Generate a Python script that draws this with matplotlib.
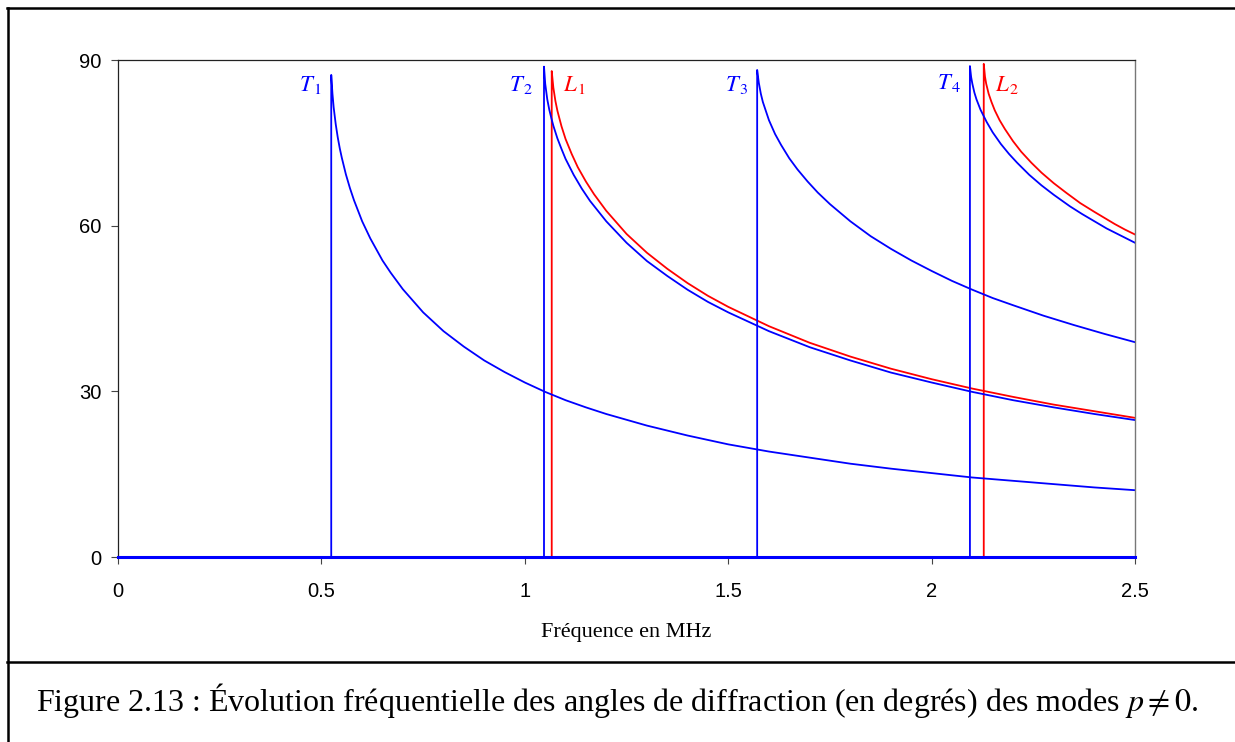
import matplotlib
matplotlib.use("Agg")
import matplotlib.pyplot as plt
from matplotlib.lines import Line2D

plt.rcParams["font.family"] = ["Liberation Sans", "DejaVu Sans"]
plt.rcParams["mathtext.fontset"] = "stix"

BLUE, RED = "#0000ff", "#ff0000"

# angle (deg) vs frequency (MHz); each mode is 0 below its cutoff
T1_F = [0.0, 0.524, 0.524, 0.527, 0.53, 0.535, 0.54, 0.545, 0.55, 0.56, 0.57, 0.58, 0.6, 0.62, 0.65, 0.67, 0.7,
        0.75, 0.8, 0.85, 0.9, 0.95, 1.0, 1.05, 1.1, 1.15, 1.2, 1.3, 1.4, 1.5, 1.6, 1.7, 1.8, 1.9, 2.0, 2.1, 2.2,
        2.3, 2.4, 2.5]
T1_A = [0.0, 0.0, 87.3, 83.9, 81.4, 78.4, 76.0, 74.0, 72.3, 69.3, 66.8, 64.6, 60.8, 57.7, 53.7, 51.5, 48.5,
        44.3, 40.9, 38.1, 35.6, 33.5, 31.6, 29.9, 28.4, 27.1, 25.9, 23.8, 22.0, 20.4, 19.1, 18.0, 16.9, 16.0, 15.2,
        14.4, 13.8, 13.2, 12.6, 12.1]

T2_F = [0.0, 1.047, 1.047, 1.05, 1.055, 1.06, 1.065, 1.07, 1.08, 1.09, 1.1, 1.12, 1.14, 1.16, 1.2, 1.25, 1.3,
        1.35, 1.4, 1.45, 1.5, 1.6, 1.7, 1.8, 1.9, 2.0, 2.1, 2.2, 2.3, 2.4, 2.5]
T2_A = [0.0, 0.0, 88.8, 85.7, 82.9, 81.0, 79.5, 78.1, 75.8, 73.9, 72.1, 69.2, 66.7, 64.5, 60.8, 56.9, 53.6,
        50.9, 48.4, 46.2, 44.3, 40.9, 38.0, 35.6, 33.4, 31.6, 29.9, 28.4, 27.1, 25.9, 24.8]

L1_F = [0.0, 1.066, 1.066, 1.07, 1.075, 1.08, 1.09, 1.1, 1.115, 1.13, 1.15, 1.17, 1.2, 1.25, 1.3, 1.35, 1.4,
        1.45, 1.5, 1.6, 1.7, 1.8, 1.9, 2.0, 2.1, 2.2, 2.3, 2.4, 2.5]
L1_A = [0.0, 0.0, 88.0, 85.0, 82.6, 80.8, 78.0, 75.7, 73.0, 70.6, 68.0, 65.7, 62.7, 58.5, 55.1, 52.2, 49.6,
        47.3, 45.3, 41.8, 38.8, 36.3, 34.1, 32.2, 30.5, 29.0, 27.6, 26.4, 25.2]

T3_F = [0.0, 1.571, 1.571, 1.575, 1.58, 1.585, 1.6, 1.615, 1.63, 1.65, 1.67, 1.695, 1.72, 1.75, 1.8, 1.85,
        1.9, 1.95, 2.0, 2.05, 2.1, 2.15, 2.2, 2.275, 2.35, 2.425, 2.5]
T3_A = [0.0, 0.0, 88.2, 85.9, 83.9, 82.4, 79.1, 76.6, 74.6, 72.2, 70.2, 68.0, 66.0, 63.9, 60.8, 58.1,
        55.8, 53.7, 51.8, 50.0, 48.4, 46.9, 45.6, 43.7, 42.0, 40.4, 38.9]

T4_F = [0.0, 2.094, 2.094, 2.097, 2.1, 2.105, 2.11, 2.12, 2.135, 2.15, 2.17, 2.19, 2.21, 2.24, 2.27, 2.3,
        2.34, 2.37, 2.4, 2.43, 2.465, 2.5]
T4_A = [0.0, 0.0, 88.9, 86.9, 85.7, 84.1, 82.9, 81.0, 78.8, 76.9, 74.8, 73.0, 71.4, 69.2, 67.3, 65.6,
        63.5, 62.1, 60.8, 59.5, 58.2, 56.9]

L2_F = [0.0, 2.128, 2.128, 2.131, 2.134, 2.14, 2.147, 2.155, 2.167, 2.18, 2.2, 2.22, 2.245, 2.27, 2.3, 2.33,
        2.365, 2.4, 2.425, 2.45, 2.475, 2.5]
L2_A = [0.0, 0.0, 89.3, 87.0, 85.7, 83.9, 82.4, 80.9, 79.1, 77.5, 75.3, 73.4, 71.4, 69.6, 67.7, 66.0,
        64.1, 62.5, 61.4, 60.3, 59.3, 58.4]

BASE_F = [0.0, 2.5]
BASE_A = [0.0, 0.0]

X_TICKS = [0, 0.5, 1, 1.5, 2, 2.5]
X_LABELS = ["0", "0.5", "1", "1.5", "2", "2.5"]
Y_TICKS = [0, 30, 60, 90]

# mode labels: (text, colour, x, y, ha)
LABELS = [
    (r"$T_{\,1}$", BLUE, 0.502, 85.5, "right"),
    (r"$T_{\,2}$", BLUE, 1.020, 85.5, "right"),
    (r"$L_{\,1}$", RED, 1.093, 85.5, "left"),
    (r"$T_{\,3}$", BLUE, 1.549, 85.5, "right"),
    (r"$T_{\,4}$", BLUE, 2.074, 86.0, "right"),
    (r"$L_{\,2}$", RED, 2.155, 85.5, "left"),
]

fig = plt.figure(figsize=(12.35, 7.42), dpi=100)
ax = fig.add_axes([0.0956, 0.2493, 0.8235, 0.6698])

for f, a in [(L1_F, L1_A), (L2_F, L2_A)]:
    ax.plot(f, a, color=RED, lw=1.3, solid_joinstyle="round")
for f, a in [(T1_F, T1_A), (T2_F, T2_A), (T3_F, T3_A), (T4_F, T4_A)]:
    ax.plot(f, a, color=BLUE, lw=1.3, solid_joinstyle="round")
ax.plot(BASE_F, BASE_A, color=BLUE, lw=2.2, clip_on=False, zorder=5)

for txt, col, x, y, ha in LABELS:
    ax.text(x, y, txt, color=col, fontsize=16.5, ha=ha, va="center")

ax.set_xlim(0, 2.5)
ax.set_ylim(0, 90)
ax.set_xticks(X_TICKS)
ax.set_xticklabels(X_LABELS)
ax.set_yticks(Y_TICKS)
ax.tick_params(labelsize=14.5, length=5, width=0.8, color="#444444")
ax.tick_params(axis="x", pad=13)
ax.tick_params(axis="y", pad=7)
for s in ["left", "top", "bottom"]:
    ax.spines[s].set_color("#222222")
    ax.spines[s].set_linewidth(0.9)
ax.spines["right"].set_color("#777777")
ax.spines["right"].set_linewidth(1.0)

ax.set_xlabel("Fréquence en MHz", family=["Liberation Serif", "DejaVu Serif"], fontsize=16, labelpad=16)

# outer frame and caption separator
fig.add_artist(Line2D([0.0065, 0.0065], [0.0, 0.9895], color="black", lw=1.8))
fig.add_artist(Line2D([0.0058, 1.0], [0.9895, 0.9895], color="black", lw=1.8))
fig.add_artist(Line2D([0.0058, 1.0], [0.1078, 0.1078], color="black", lw=1.8))

fig.text(0.5, 0.056, "Figure 2.13 : Évolution fréquentielle des angles de diffraction (en degrés) des modes $p \\neq 0$.",
         family=["Liberation Serif", "DejaVu Serif"], fontsize=23, ha="center", va="center")

fig.savefig("out.png", dpi=100)
